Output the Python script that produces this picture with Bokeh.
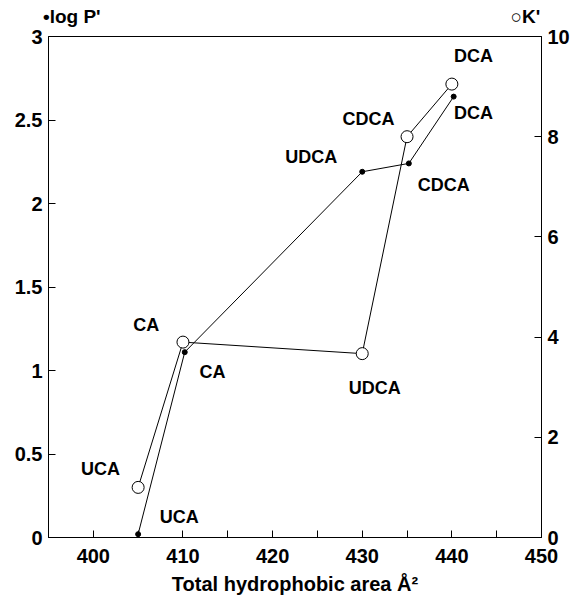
from bokeh.plotting import figure
from bokeh.models import (Range1d, LinearAxis, FixedTicker, CustomJSTickFormatter,
                          ColumnDataSource)
from bokeh.core.properties import value
from bokeh.embed import file_html
from bokeh.resources import INLINE

# ---- data ----
acids = ["UCA", "CA", "UDCA", "CDCA", "DCA"]
area_logp = [405.0, 410.2, 430.0, 435.2, 440.2]
log_p = [0.02, 1.11, 2.19, 2.24, 2.64]
area_k = [405.0, 410.0, 430.0, 435.0, 440.0]
k_prime = [1.0, 3.9, 3.67, 8.0, 9.05]

x_ticks = [400, 410, 420, 430, 440, 450]
x_minor = [405, 415, 425, 435, 445]
left_ticks = [0, 0.5, 1, 1.5, 2, 2.5, 3]
right_ticks = [0, 2, 4, 6, 8, 10]

legend_texts = ["•log P'", "○K'"]

# label placement (data coordinates of left axis)
lab_text = ["DCA", "DCA", "CDCA", "UDCA", "CDCA", "CA", "CA", "UDCA", "UCA", "UCA"]
lab_x = [442.4, 442.4, 430.7, 424.3, 439.1, 405.9, 413.3, 431.4, 400.8, 409.6]
lab_y = [2.886, 2.544, 2.508, 2.28, 2.112, 1.272, 0.99, 0.894, 0.408, 0.12]
legend_x = [397.6, 448.2]

FONT = "Liberation Sans"

p = figure(width=576, height=600, output_backend="svg", toolbar_location=None,
           x_range=Range1d(395, 450), y_range=Range1d(0, 3),
           min_border_left=48, min_border_right=35, min_border_top=36,
           min_border_bottom=63)
p.extra_y_ranges = {"k": Range1d(0, 10)}
p.xgrid.visible = False
p.ygrid.visible = False
p.outline_line_color = "black"
p.outline_line_width = 1
p.background_fill_color = "white"
p.border_fill_color = "white"

def style_axis(ax, size="20px"):
    ax.axis_line_color = "black"
    ax.major_tick_in = 7
    ax.major_tick_out = 0
    ax.minor_tick_in = 7
    ax.minor_tick_out = 0
    ax.major_tick_line_color = "black"
    ax.minor_tick_line_color = "black"
    ax.major_label_text_font = FONT
    ax.major_label_text_font_style = "bold"
    ax.major_label_text_font_size = size
    ax.major_label_text_color = "black"

xa = p.xaxis[0]
xa.ticker = FixedTicker(ticks=x_ticks, minor_ticks=x_minor)
style_axis(xa)
xa.major_label_standoff = 11
xa.axis_label = "Total hydrophobic area Å²"
xa.axis_label_text_font = FONT
xa.axis_label_text_font_style = "bold"
xa.axis_label_text_font_size = "20px"
xa.axis_label_text_color = "black"
xa.axis_label_standoff = 7

ya = p.yaxis[0]
ya.ticker = FixedTicker(ticks=left_ticks, minor_ticks=[])
ya.formatter = CustomJSTickFormatter(code="return tick.toString()")
style_axis(ya)
ya.major_label_standoff = 6

ra = LinearAxis(y_range_name="k", ticker=FixedTicker(ticks=right_ticks, minor_ticks=[]))
style_axis(ra)
ra.major_label_standoff = 6
p.add_layout(ra, "right")

# legend texts drawn as labels of an invisible top axis
ta = LinearAxis(ticker=FixedTicker(ticks=legend_x, minor_ticks=[]))
ta.major_label_overrides = {legend_x[0]: legend_texts[0], legend_x[1]: legend_texts[1]}
ta.axis_line_color = None
ta.major_tick_line_color = None
ta.minor_tick_line_color = None
ta.major_label_text_font = FONT
ta.major_label_text_font_style = "bold"
ta.major_label_text_font_size = "19px"
ta.major_label_text_color = "black"
ta.major_label_standoff = 4
p.add_layout(ta, "above")

# K' series (open circles, right axis)
p.line(area_k, k_prime, y_range_name="k", line_color="black", line_width=1)
p.scatter(area_k, k_prime, y_range_name="k", marker="circle", size=12,
          fill_color="white", line_color="black", line_width=1)

# log P' series (filled dots, left axis)
p.line(area_logp, log_p, line_color="black", line_width=1)
p.scatter(area_logp, log_p, marker="circle", size=5, fill_color="black",
          line_color="black")

src = ColumnDataSource(dict(x=lab_x, y=lab_y, t=lab_text))
p.text(x="x", y="y", text="t", source=src, text_align="center",
       text_baseline="middle", text_font=value(FONT), text_font_style="bold",
       text_font_size="18px", text_color="black")

open("out.html", "w").write(file_html(p, INLINE))
